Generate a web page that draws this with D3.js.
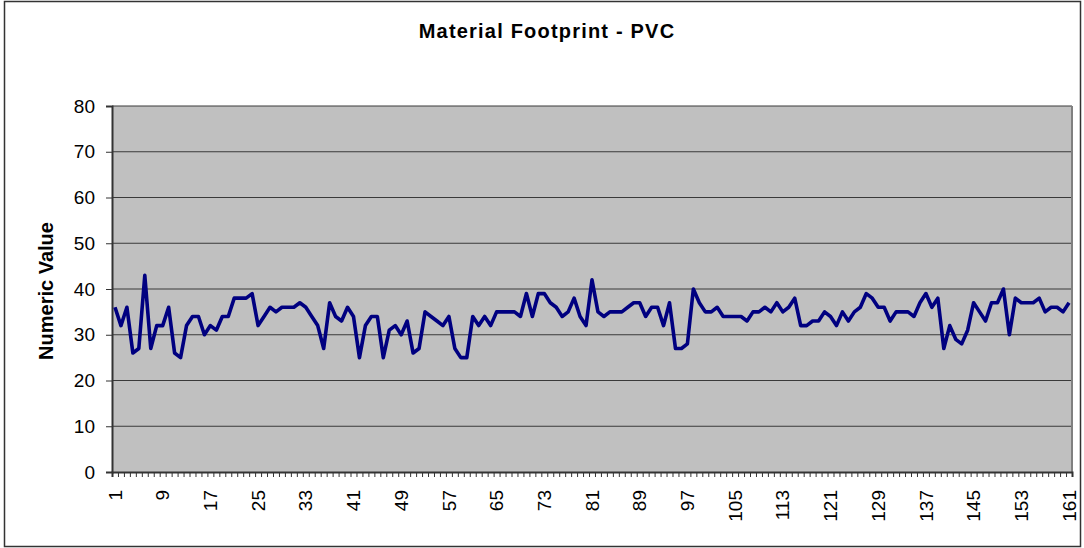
<!DOCTYPE html>
<html>
<head>
<meta charset="utf-8">
<script src="https://cdn.jsdelivr.net/npm/d3@7"></script>
<style>
  html, body { margin: 0; padding: 0; background: #fff; }
  svg { display: block; font-family: Arial, "Liberation Sans", sans-serif; }
</style>
</head>
<body>
<svg id="chart" width="1084" height="548"></svg>
<script>
// Material footprint readings for PVC, one value per sample (1..161)
const sampleValues = [
  36, 32, 36, 26, 27, 43, 27, 32, 32, 36,
  26, 25, 32, 34, 34, 30, 32, 31, 34, 34,
  38, 38, 38, 39, 32, 34, 36, 35, 36, 36,
  36, 37, 36, 34, 32, 27, 37, 34, 33, 36,
  34, 25, 32, 34, 34, 25, 31, 32, 30, 33,
  26, 27, 35, 34, 33, 32, 34, 27, 25, 25,
  34, 32, 34, 32, 35, 35, 35, 35, 34, 39,
  34, 39, 39, 37, 36, 34, 35, 38, 34, 32,
  42, 35, 34, 35, 35, 35, 36, 37, 37, 34,
  36, 36, 32, 37, 27, 27, 28, 40, 37, 35,
  35, 36, 34, 34, 34, 34, 33, 35, 35, 36,
  35, 37, 35, 36, 38, 32, 32, 33, 33, 35,
  34, 32, 35, 33, 35, 36, 39, 38, 36, 36,
  33, 35, 35, 35, 34, 37, 39, 36, 38, 27,
  32, 29, 28, 31, 37, 35, 33, 37, 37, 40,
  30, 38, 37, 37, 37, 38, 35, 36, 36, 35,
  37
];
const categories = sampleValues.map((_, i) => i + 1);
const yTickValues = [0, 10, 20, 30, 40, 50, 60, 70, 80];
const xLabelStep = 8;
const chartTitle = "Material Footprint - PVC";
const yAxisTitle = "Numeric Value";

const svg = d3.select("#chart");
const W = 1084, H = 548;
const plot = { left: 112, top: 106, right: 1072, bottom: 472 };

// Outer chart border
svg.append("rect")
  .attr("x", 4.5).attr("y", 1.5)
  .attr("width", W - 8).attr("height", H - 3)
  .attr("fill", "#fff")
  .attr("stroke", "#333").attr("stroke-width", 1.5);

// Scales
const x = d3.scaleBand().domain(categories).range([plot.left, plot.right]).padding(0);
const xEdges = d3.scaleLinear().domain([0, categories.length]).range([plot.left, plot.right]);
const y = d3.scaleLinear().domain([0, 80]).range([plot.bottom, plot.top]);

// Plot area background
svg.append("rect")
  .attr("x", plot.left).attr("y", plot.top)
  .attr("width", plot.right - plot.left).attr("height", plot.bottom - plot.top)
  .attr("fill", "#c0c0c0");

// Horizontal gridlines
svg.append("g")
  .selectAll("line")
  .data(yTickValues.filter(v => v > 0))
  .join("line")
  .attr("x1", plot.left).attr("x2", plot.right)
  .attr("y1", d => y(d)).attr("y2", d => y(d))
  .attr("stroke", "#3a3a3a").attr("stroke-width", 1.2);

// Plot area right border
svg.append("line")
  .attr("x1", plot.right).attr("x2", plot.right)
  .attr("y1", plot.top).attr("y2", plot.bottom)
  .attr("stroke", "#808080").attr("stroke-width", 2);

// Y axis
const yAxis = svg.append("g")
  .attr("transform", `translate(${plot.left},0)`)
  .call(d3.axisLeft(y).tickValues(yTickValues).tickSize(6).tickPadding(11));
yAxis.select(".domain").attr("stroke", "#333").attr("stroke-width", 2);
yAxis.selectAll(".tick line").attr("stroke", "#333");
yAxis.selectAll(".tick text")
  .attr("font-size", 19).attr("fill", "#000")
  .attr("font-family", "Arial, 'Liberation Sans', sans-serif");

// X axis: small tick marks at every category boundary
const xTicks = svg.append("g")
  .attr("transform", `translate(0,${plot.bottom})`)
  .call(d3.axisBottom(xEdges).tickValues(d3.range(0, categories.length + 1)).tickSize(5).tickFormat(""));
xTicks.select(".domain").attr("stroke", "#333").attr("stroke-width", 2);
xTicks.selectAll(".tick line").attr("stroke", "#333");

// X axis labels, rotated, every 8th sample
const xLabels = svg.append("g")
  .attr("transform", `translate(0,${plot.bottom})`)
  .call(d3.axisBottom(x)
    .tickValues(categories.filter(c => (c - 1) % xLabelStep === 0))
    .tickSize(0));
xLabels.select(".domain").remove();
xLabels.selectAll(".tick text")
  .attr("font-size", 19).attr("fill", "#000")
  .attr("font-family", "Arial, 'Liberation Sans', sans-serif")
  .attr("transform", "rotate(-90)")
  .attr("text-anchor", "end")
  .attr("x", -18).attr("y", 0).attr("dy", "0.35em");

// Data line
const line = d3.line()
  .x((d, i) => x(categories[i]) + x.bandwidth() / 2)
  .y(d => y(d));
svg.append("path")
  .datum(sampleValues)
  .attr("d", line)
  .attr("fill", "none")
  .attr("stroke", "#000080")
  .attr("stroke-width", 3.6)
  .attr("stroke-linejoin", "round");

// Chart title
svg.append("text")
  .attr("x", 547).attr("y", 38)
  .attr("text-anchor", "middle")
  .attr("font-size", 20).attr("font-weight", "bold")
  .attr("letter-spacing", 1.2)
  .text(chartTitle);

// Y axis title
svg.append("text")
  .attr("transform", `translate(53,291) rotate(-90)`)
  .attr("text-anchor", "middle")
  .attr("font-size", 20).attr("font-weight", "bold")
  .text(yAxisTitle);
</script>
</body>
</html>
